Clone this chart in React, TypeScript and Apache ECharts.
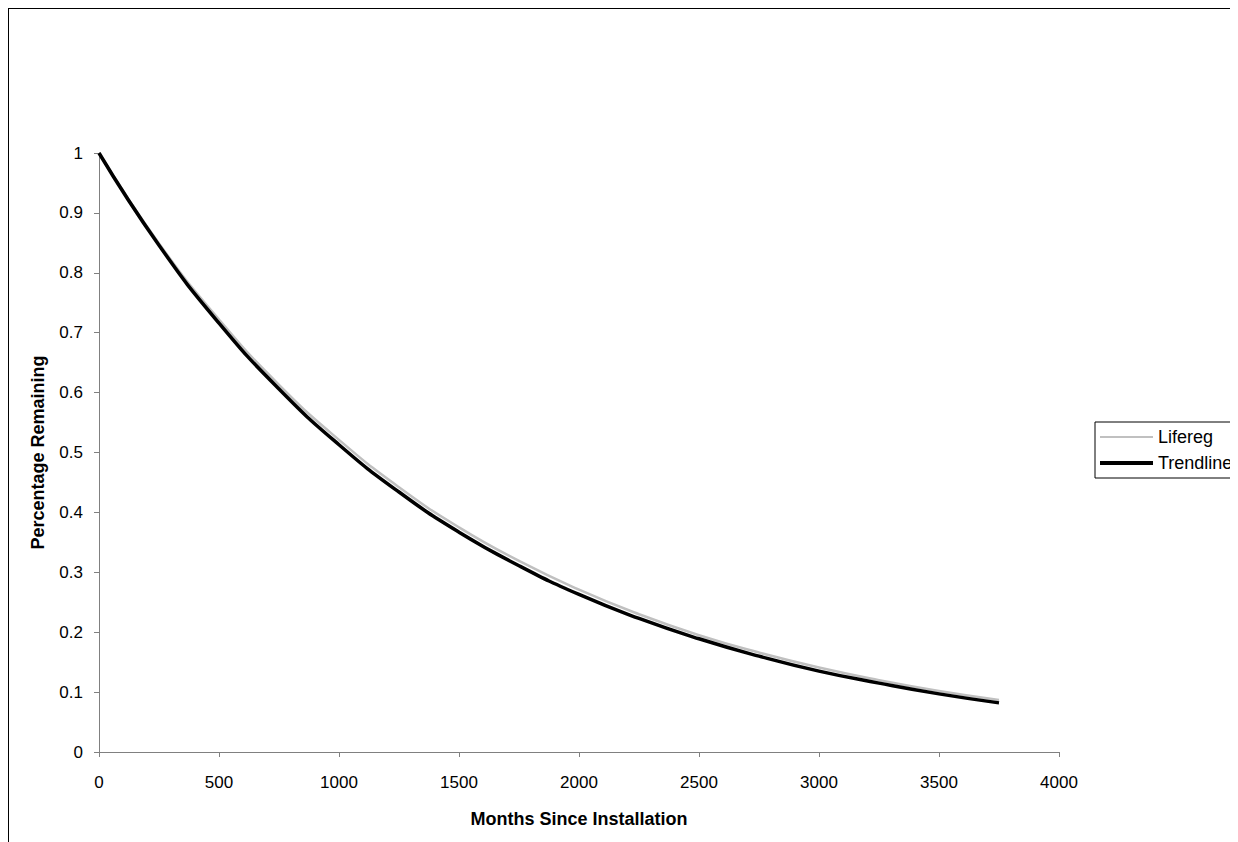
import React, { useEffect, useRef } from "react";
import * as echarts from "echarts";

const months = [0, 250, 500, 750, 1000, 1250, 1500, 1750, 2000, 2250, 2500, 2750, 3000, 3250, 3500, 3750];
const lifereg = [1.0, 0.849, 0.722, 0.613, 0.521, 0.442, 0.375, 0.319, 0.271, 0.23, 0.195, 0.166, 0.141, 0.12, 0.102, 0.087];
const trendline = [1.0, 0.846, 0.716, 0.606, 0.513, 0.434, 0.367, 0.311, 0.263, 0.223, 0.189, 0.16, 0.135, 0.115, 0.097, 0.082];
const seriesNames = ["Lifereg", "Trendline"];
const xTitle = "Months Since Installation";
const yTitle = "Percentage Remaining";

const FONT = "'Liberation Sans', Arial, sans-serif";

export default function App() {
  const ref = useRef<HTMLDivElement>(null);
  useEffect(() => {
    document.documentElement.style.overflow = "hidden";
    document.body.style.overflow = "hidden";
    const chart = echarts.init(ref.current!, null, { renderer: "svg" });
    const axisLineStyle = { color: "#808080", width: 1 };
    chart.setOption({
      animation: false,
      textStyle: { fontFamily: FONT },
      grid: { left: 90, right: 210, top: 144, bottom: 117, containLabel: false },
      legend: {
        orient: "vertical",
        left: 1086,
        top: 413,
        itemWidth: 53,
        itemHeight: 14,
        itemGap: 8,
        symbolKeepAspect: true,
        padding: [6, 40, 6, 5],
        borderColor: "#000",
        borderWidth: 1,
        textStyle: { fontFamily: FONT, fontSize: 18, color: "#000" },
        data: [
          { name: seriesNames[0], icon: "path://M0,0L53,0L53,2L0,2Z", itemStyle: { color: "#c0c0c0" } },
          { name: seriesNames[1], icon: "path://M0,0L53,0L53,4L0,4Z", itemStyle: { color: "#000" } },
        ],
      },
      xAxis: {
        type: "value",
        min: 0,
        max: 4000,
        interval: 500,
        name: xTitle,
        nameLocation: "middle",
        nameGap: 58,
        nameTextStyle: { fontFamily: FONT, fontSize: 18, fontWeight: "bold", color: "#000" },
        axisLine: { show: true, lineStyle: axisLineStyle },
        axisTick: { show: true, length: 5, inside: false, lineStyle: axisLineStyle },
        axisLabel: {
          fontFamily: FONT,
          fontSize: 17,
          color: "#000",
          margin: 22,
          formatter: (v: number) => String(v),
        },
        splitLine: { show: false },
      },
      yAxis: {
        type: "value",
        min: 0,
        max: 1,
        interval: 0.1,
        name: yTitle,
        nameLocation: "middle",
        nameGap: 52,
        nameRotate: 90,
        nameTextStyle: { fontFamily: FONT, fontSize: 18, fontWeight: "bold", color: "#000" },
        axisLine: { show: true, lineStyle: axisLineStyle },
        axisTick: { show: true, length: 5, inside: false, lineStyle: axisLineStyle },
        axisLabel: {
          fontFamily: FONT,
          fontSize: 17,
          color: "#000",
          margin: 16,
          formatter: (v: number) => String(Math.round(v * 10) / 10),
        },
        splitLine: { show: false },
      },
      series: [
        {
          name: seriesNames[0],
          type: "line",
          data: months.map((m, i) => [m, lifereg[i]]),
          smooth: true,
          symbol: "none",
          lineStyle: { color: "#c0c0c0", width: 2.5 },
          itemStyle: { color: "#c0c0c0" },
          z: 2,
        },
        {
          name: seriesNames[1],
          type: "line",
          data: months.map((m, i) => [m, trendline[i]]),
          smooth: true,
          symbol: "none",
          lineStyle: { color: "#000", width: 3.5 },
          itemStyle: { color: "#000" },
          z: 3,
        },
      ],
    });
    return () => chart.dispose();
  }, []);
  return (
    <div
      ref={ref}
      style={{
        width: 1260,
        height: 860,
        border: "1px solid #000",
        background: "#fff",
      }}
    />
  );
}
